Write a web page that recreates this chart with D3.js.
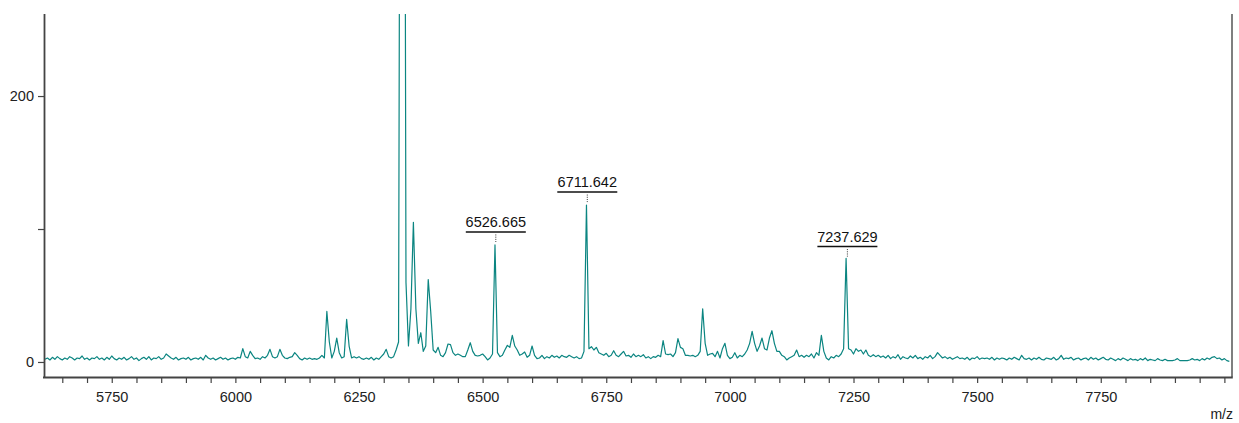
<!DOCTYPE html>
<html><head><meta charset="utf-8">
<script src="https://cdn.jsdelivr.net/npm/d3@7"></script>
<style>
body{margin:0;background:#fff;}
text{font-family:"Liberation Sans",Arial,sans-serif;}
</style>
</head><body>
<svg id="chart" width="1239" height="423"></svg>
<script>
// m/z sampling grid of the spectrum
const mzStart = 5615;
const mzStep = 5;
// intensity values, one row per 100 m/z (5615 .. 8010)
const intensity = [
  2,3,1.5,3.5,2,4,2.5,1.5,3,2,4,3,1.5,3,2.5,4.5,2,3,1.5,3,
  2.5,4,2,3,1.5,3.5,2,4.5,2.5,1.5,3,2,3.5,1.5,2.5,4,2,3,1,2.5,
  3.5,2,4,1.5,3,2.5,4,2,3,6,4.5,3,2,3.5,1.5,2.5,3,2,3.5,1.5,
  2.5,3,2,3.5,1.5,5,3,2,3,1.5,2.5,3.5,2,3,1.5,2.5,3,2,3.5,3,
  10,4,3,8,5,2.5,3,2,4,3,5,9.5,4,3,4,9.5,5,3,2.5,3.5,
  4,7,5,2.5,1.5,3,2,3,2,2.5,2,3,5,3,38,15,3,8,18,7,
  3,4,32,12,3,4,3,4,2.5,2,3,2,3.5,1.5,3,2,4,6,9.5,4,
  3,4,9,15,800,900,60,12,40,105,40,14,22,8,12,62,38,9,7,11,
  5,4,7,13.5,13,7,5,6,5,4,4,9,14.5,8,5,4.5,5,6,4,1.5,
  3,6,88,7,4,5,9,12.5,11,20,12,9,5,6,7.5,3.5,5,12,5,2.5,
  3,5,2.5,4,3,5,3.5,4.5,3,5,4,3.5,5,4,3,4,2.5,3,8,118,
  10,11.5,9,11,7,6,5,6.5,4,5,8.5,5,4,6,8,4.5,5,3.5,6,4,
  5,4,5.5,3,4,2.5,4,3.5,5,4,16,6,5.5,6,4,7,17.5,11,10,5,
  5,4.5,5,4,5,8,40,14,5,6,6.5,4,8,3,10,14,5,2.5,3.5,7,
  3,5,4,6,9,14,23,14,8,12,18,10,9,18,23.5,14,8,8,5,4,
  1.5,3,4,5,9,4,5,3.5,5,4,6,3,7,5,20,8,3,1.5,4,3,
  5,4,6,10,78,10,9,6,10,8,9,6,9,5,4,5.5,4,5,3.5,4.5,
  3,5,2.5,4,3,5.5,2,4,3,2.5,4.5,3,5,2.5,3.5,2,4,3,5,2.5,
  4,7,5,3,4,2.5,3.5,2,3,4,2.5,3,2,3.5,1.5,3,2.5,4,2,3,
  2.5,3,2,3.5,1.5,3,2,3,2.5,1.5,3,2,3.5,2.5,1.5,5,2.5,2,3,1.5,
  3,2,3.5,2,1.5,3,2.5,2,3.5,1.5,2.5,5,2,3,2.5,3.5,1.5,2.5,3,1.5,
  2.5,3,1.5,3.5,2,3,1.5,2.5,3.5,2,1.5,3,2,1,2.5,1.5,3,2,1,2.5,
  1.5,2,1,2.5,1.5,3,1,2,1.5,1,2.5,1.5,1,2,1,1,1,1.5,2.5,1,
  1,1,1,1.5,2.5,1.5,2,1,2.5,1.5,3,2,3.5,4,2.5,3,1.5,2.5,1,0.5
];
const xTickLabels = [5750, 6000, 6250, 6500, 6750, 7000, 7250, 7500, 7750];
const yTickLabels = [0, 200];
const peakLabels = ["6526.665", "6711.642", "7237.629"];
const peakMz = [6526.665, 6711.642, 7237.629];
const peakHeight = [88, 118, 77];

const spectrum = intensity.map((v, i) => ({mz: mzStart + i * mzStep, v}));

const svg = d3.select("#chart");
const pLeft = 44, pRight = 1232, pTop = 14, pBottom = 377;

const x = d3.scaleLinear().domain([5613, 8015.4]).range([pLeft, pRight]);
const y = d3.scaleLinear().domain([-11.3, 261.7]).range([pBottom, pTop]);

svg.append("defs").append("clipPath").attr("id", "clip")
  .append("rect").attr("x", pLeft).attr("y", pTop)
  .attr("width", pRight - pLeft).attr("height", pBottom - pTop);

// spectrum line
svg.append("path")
  .datum(spectrum)
  .attr("clip-path", "url(#clip)")
  .attr("fill", "none")
  .attr("stroke", "#0b8581")
  .attr("stroke-width", 1.2)
  .attr("stroke-linejoin", "round")
  .attr("d", d3.line().x(d => x(d.mz)).y(d => y(d.v)));

// right border
svg.append("line")
  .attr("x1", pRight).attr("x2", pRight).attr("y1", pTop).attr("y2", pBottom)
  .attr("stroke", "#555").attr("stroke-width", 1.5);

// x axis
const xAxis = d3.axisBottom(x)
  .tickValues(d3.range(5650, 8001, 50))
  .tickSize(6).tickSizeOuter(0).tickPadding(9)
  .tickFormat(d => xTickLabels.includes(d) ? String(d) : "");
const gx = svg.append("g").attr("transform", `translate(0,${pBottom})`).call(xAxis);
gx.select(".domain").attr("stroke", "#444").attr("stroke-width", 1.8)
  .attr("d", `M${pLeft - 1},0.5H${pRight + 0.8}`);
gx.selectAll(".tick line").attr("stroke", "#444").attr("stroke-width", 1.2);
gx.selectAll(".tick text").attr("fill", "#222").style("font-size", "14.5px")
  .style("font-family", "'Liberation Sans', Arial, sans-serif");

// y axis
const yAxis = d3.axisLeft(y)
  .tickValues([0, 100, 200])
  .tickSize(6).tickSizeOuter(0).tickPadding(4)
  .tickFormat(d => yTickLabels.includes(d) ? String(d) : "");
const gy = svg.append("g").attr("transform", `translate(${pLeft},0)`).call(yAxis);
gy.select(".domain").attr("stroke", "#444").attr("stroke-width", 1.8)
  .attr("d", `M0.5,${pTop}V${pBottom + 1}`);
gy.selectAll(".tick line").attr("stroke", "#444").attr("stroke-width", 1.2);
gy.selectAll(".tick text").attr("fill", "#222").style("font-size", "14.5px")
  .style("font-family", "'Liberation Sans', Arial, sans-serif");

// axis title
svg.append("text").attr("x", pRight + 1).attr("y", 419)
  .attr("text-anchor", "end").attr("fill", "#222")
  .style("font-size", "14px").text("m/z");

// peak annotations
peakMz.forEach((m, i) => {
  const px = x(m);
  const py = y(peakHeight[i]);
  const lineY = py - 13;
  const g = svg.append("g");
  g.append("line").attr("x1", px).attr("x2", px)
    .attr("y1", lineY + 2.5).attr("y2", py - 3)
    .attr("stroke", "#333").attr("stroke-width", 1)
    .attr("stroke-dasharray", "1,1.2");
  g.append("line").attr("x1", px - 30).attr("x2", px + 30)
    .attr("y1", lineY).attr("y2", lineY)
    .attr("stroke", "#111").attr("stroke-width", 1.5);
  g.append("text").attr("x", px).attr("y", lineY - 5)
    .attr("text-anchor", "middle").attr("fill", "#111")
    .style("font-size", "14.5px").text(peakLabels[i]);
});
</script>
</body></html>
